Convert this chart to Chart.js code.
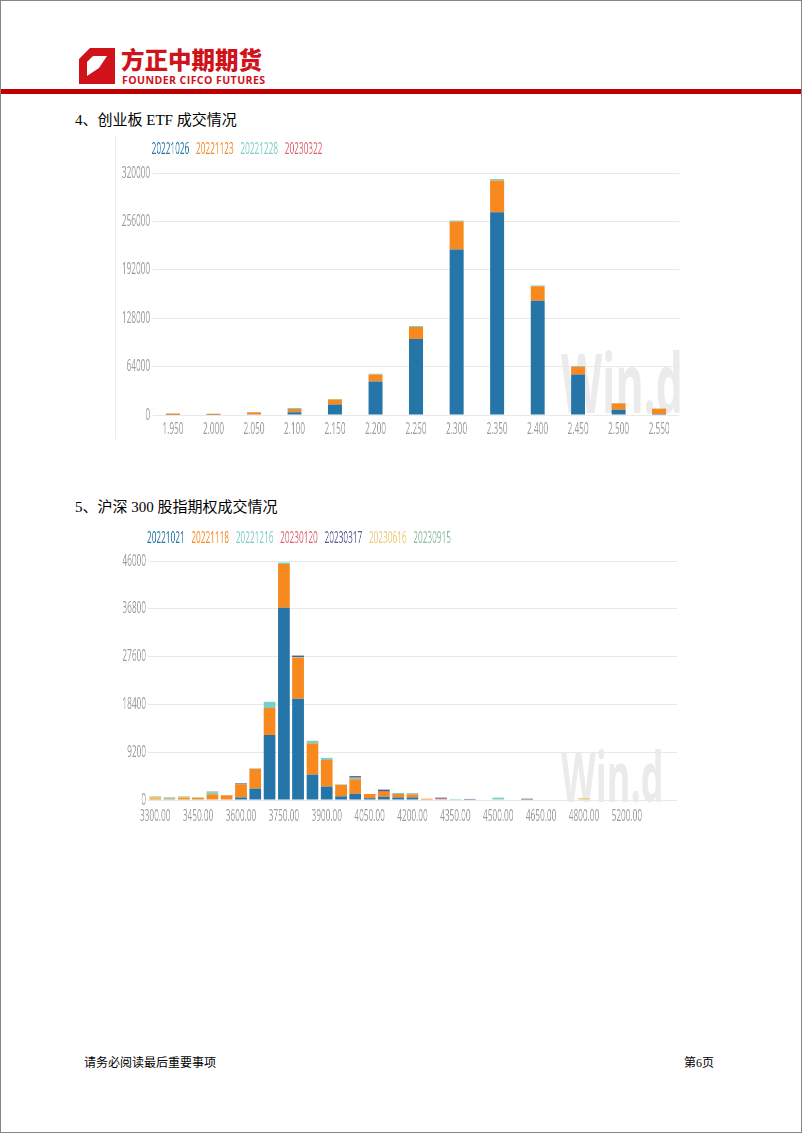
<!DOCTYPE html>
<html>
<head>
<meta charset="utf-8">
<script src="https://cdn.jsdelivr.net/npm/chart.js@4/dist/chart.umd.min.js"></script>
<style>
  body { margin: 0; background: #fff; }
  #page { position: relative; width: 800px; height: 1131px; border: 1px solid #858585; background: #fff; overflow: hidden; }
  .abs { position: absolute; }
  .heading { font: 15px 'Liberation Serif', 'Noto Sans CJK SC', serif; line-height: 20px; color: #000; white-space: nowrap; }
  .footer { font: 12px 'Liberation Serif', 'Noto Sans CJK SC', serif; line-height: 16px; color: #000; }
  .chartbox { transform: scaleX(0.515); transform-origin: 0 0; }
  .watermark { position: absolute; font-family: 'Open Sans', sans-serif; font-weight: 700; line-height: 1; color: #ebebeb; white-space: nowrap; }
  canvas { position: absolute; left: 0; top: 0; }
</style>
</head>
<body>
<div id="page">
  <!-- header -->
  <svg class="abs" style="left:78px;top:47px" width="36" height="36" viewBox="0 0 36 36">
    <polygon points="11,0 36,0 36,36 0,36 0,11" fill="#d0121b"/>
    <polygon points="14,8 28,8 28,28 8,28 8,14" fill="#fff"/>
    <polygon points="28,8 28,28 8,28 20,20" fill="#d0121b"/>
  </svg>
  <div class="abs" style="left:120px;top:44px;font:900 23.5px 'Noto Sans CJK SC',sans-serif;line-height:28px;color:#d0121b;white-space:nowrap">方正中期期货</div>
  <div class="abs" style="left:121px;top:73px;font:700 10.6px 'Open Sans',sans-serif;line-height:13px;letter-spacing:0.4px;color:#d0121b;white-space:nowrap">FOUNDER CIFCO FUTURES</div>
  <div class="abs" style="left:0;top:88px;width:800px;height:5px;background:#c00000"></div>

  <div class="abs heading" style="left:74px;top:109px">4、创业板 ETF 成交情况</div>
  <div class="abs" style="left:114px;top:134px;width:1px;height:304px;background:#ececec"></div>
  <div class="abs chartbox" style="left:113px;top:133px;width:1120px;height:309px">
    <div class="watermark" style="left:868px;top:205px;font-size:83px">Win.d</div>
    <canvas id="etfChart" width="1120" height="309"></canvas>
  </div>

  <div class="abs heading" style="left:74px;top:496px">5、沪深 300 股指期权成交情况</div>
  <div class="abs chartbox" style="left:113px;top:522px;width:1120px;height:309px">
    <div class="watermark" style="left:868px;top:217px;font-size:70px">Win.d</div>
    <canvas id="idxChart" width="1120" height="309"></canvas>
  </div>

  <div class="abs footer" style="left:83px;top:1054px">请务必阅读最后重要事项</div>
  <div class="abs footer" style="left:683px;top:1054px">第6页</div>
</div>

<script>
// ---- 创业板ETF: volume by strike, stacked by expiry ----
const etfStrikes = ['1.950', '2.000', '2.050', '2.100', '2.150', '2.200', '2.250', '2.300', '2.350', '2.400', '2.450', '2.500', '2.550'];
const etfExpiries = ['20221026', '20221123', '20221228', '20230322'];
const etf1026 = [300, 200, 900, 3500, 13800, 44400, 100400, 219000, 268000, 151000, 53700, 7100, 1300];
const etf1123 = [1600, 1500, 2600, 4400, 6700, 9300, 16000, 36900, 42200, 19100, 10200, 8000, 7100];
const etf1228 = [0, 0, 0, 1300, 700, 1000, 1300, 1300, 1800, 1300, 900, 800, 300];
const etf0322 = [0, 0, 0, 0, 0, 0, 0, 0, 0, 0, 0, 0, 0];
const etfYTicks = [0, 64000, 128000, 192000, 256000, 320000];

// ---- 沪深300股指期权: volume by strike, stacked by expiry ----
const idxStrikes = ['3300.00', '3350.00', '3400.00', '3450.00', '3500.00', '3550.00', '3600.00', '3650.00', '3700.00', '3750.00',
  '3800.00', '3850.00', '3900.00', '3950.00', '4000.00', '4050.00', '4100.00', '4150.00', '4200.00', '4250.00',
  '4300.00', '4350.00', '4400.00', '4450.00', '4500.00', '4550.00', '4600.00', '4650.00', '4700.00', '4750.00',
  '4800.00', '4900.00', '5000.00', '5200.00', '5400.00', '5600.00', '5800.00'];
const idxExpiries = ['20221021', '20221118', '20221216', '20230120', '20230317', '20230616', '20230915'];
const idx1021 = [0, 0, 0, 0, 100, 0, 500, 2200, 12500, 37000, 19500, 4900, 2600, 700, 1200, 350, 600, 500, 500, 0, 0, 0, 0, 0, 0, 0, 0, 0, 0, 0, 0, 0, 0, 0, 0, 0, 0];
const idx1118 = [300, 200, 400, 400, 1000, 900, 2500, 3800, 5200, 8400, 7900, 6000, 5100, 2200, 2800, 800, 1000, 650, 600, 250, 150, 0, 0, 0, 0, 0, 0, 0, 0, 0, 0, 0, 0, 0, 0, 0, 0];
const idx1216 = [0, 150, 0, 100, 300, 50, 0, 100, 1200, 300, 100, 500, 400, 100, 300, 0, 0, 200, 0, 0, 0, 200, 0, 0, 450, 0, 0, 0, 0, 0, 0, 0, 0, 0, 0, 0, 0];
const idx0120 = [0, 0, 0, 0, 0, 0, 0, 0, 0, 0, 0, 0, 0, 0, 0, 0, 0, 0, 0, 0, 100, 0, 0, 0, 0, 0, 0, 0, 0, 0, 0, 0, 0, 0, 0, 0, 0];
const idx0317 = [0, 0, 0, 0, 0, 0, 200, 0, 0, 0, 300, 0, 0, 0, 300, 0, 400, 0, 0, 0, 200, 0, 200, 0, 0, 0, 250, 0, 0, 0, 0, 0, 0, 0, 0, 0, 0];
const idx0616 = [300, 0, 200, 0, 0, 0, 0, 0, 0, 0, 0, 0, 0, 0, 0, 0, 0, 0, 0, 0, 0, 0, 0, 0, 0, 0, 0, 0, 0, 0, 350, 0, 0, 0, 0, 0, 0];
const idx0915 = [100, 150, 100, 0, 250, 0, 0, 0, 0, 0, 0, 0, 0, 0, 0, 0, 0, 0, 200, 0, 0, 0, 0, 0, 0, 0, 0, 0, 0, 0, 0, 0, 0, 0, 0, 0, 0];
const idxYTicks = [0, 9200, 18400, 27600, 36800, 46000];

// Wind palette
const windColors = ['#2575a8', '#f7891f', '#7dcdc9', '#e2606f', '#535c8e', '#e8cc78', '#8db99c'];
const SQUEEZE = 0.515; // the chart pictures are squeezed sideways on the page

Chart.defaults.font.family = "'Open Sans', sans-serif";
Chart.defaults.font.size = 16;
Chart.defaults.color = '#9b9b9b';

// Wind sets its legend in from the edge with a gap under it; the stock legend can't do that alone
const legendNudge = {
  id: 'legendNudge',
  beforeLayout(chart, args, opts) {
    const legend = chart.legend;
    if (!legend || legend._nudged) return;
    const fit = legend.fit;
    legend.fit = function () {
      fit.call(this);
      this.height += opts.gap;
    };
    legend._nudged = true;
  },
  afterLayout(chart, args, opts) {
    chart.legend.left += opts.dx;
    chart.legend.top += opts.dy;
  }
};

function textLegend(chart) {
  return chart.data.datasets.map((ds, i) => ({
    text: ds.label,
    fillStyle: 'rgba(0,0,0,0)',
    strokeStyle: 'rgba(0,0,0,0)',
    fontColor: ds.backgroundColor,
    lineWidth: 0,
    hidden: false,
    datasetIndex: i
  }));
}

function buildDatasets(names, series, barPct) {
  return names.map((name, i) => ({
    label: name,
    data: series[i],
    backgroundColor: windColors[i],
    borderWidth: 0,
    categoryPercentage: 1,
    barPercentage: barPct
  }));
}

function makeChart(canvasId, cfg) {
  const ctx = document.getElementById(canvasId).getContext('2d');
  return new Chart(ctx, {
    type: 'bar',
    data: {
      labels: cfg.labels,
      datasets: buildDatasets(cfg.names, cfg.series, cfg.barPct)
    },
    plugins: [legendNudge],
    options: {
      responsive: false,
      animation: false,
      layout: { padding: { left: 0, top: 0, right: cfg.padRight, bottom: 0 } },
      plugins: {
        legend: {
          position: 'top',
          align: 'start',
          labels: { boxWidth: 0, boxHeight: 0, padding: 5, font: { size: 16 }, generateLabels: textLegend }
        },
        legendNudge: cfg.legend,
        tooltip: { enabled: false }
      },
      scales: {
        x: {
          stacked: true,
          grid: { display: false, drawTicks: false },
          border: { display: false },
          ticks: {
            autoSkip: false,
            maxRotation: 0,
            padding: cfg.xPad,
            callback: cfg.xCallback
          }
        },
        y: {
          stacked: true,
          min: cfg.yTicks[0],
          max: cfg.yTicks[cfg.yTicks.length - 1],
          afterFit: scale => { scale.width = cfg.yWidth; },
          grid: { color: '#e9e9e9', lineWidth: 1, drawTicks: false },
          border: { display: false },
          ticks: {
            stepSize: cfg.yTicks[1] - cfg.yTicks[0],
            padding: cfg.yPad,
            callback: value => String(value)
          }
        }
      }
    }
  });
}

function initCharts() {
  makeChart('etfChart', {
    labels: etfStrikes,
    names: etfExpiries,
    series: [etf1026, etf1123, etf1228, etf0322],
    yTicks: etfYTicks,
    barPct: 0.345,
    yWidth: 38.7 / SQUEEZE,
    yPad: 5,
    xPad: 4.4,
    padRight: 11.4 / SQUEEZE,
    legend: { dx: 60, dy: 2, gap: 8 },
    xCallback: function (value) { return this.getLabelForValue(value); }
  });

  makeChart('idxChart', {
    labels: idxStrikes,
    names: idxExpiries,
    series: [idx1021, idx1118, idx1216, idx0120, idx0317, idx0616, idx0915],
    yTicks: idxYTicks,
    barPct: 0.82,
    yWidth: 34.05 / SQUEEZE,
    yPad: 4,
    xPad: 6.4,
    padRight: 13.9 / SQUEEZE,
    legend: { dx: 51, dy: 2.7, gap: 7 },
    xCallback: function (value, i) {
      return i % 3 === 0 && i < idxStrikes.length - 1 ? this.getLabelForValue(value) : '';
    }
  });
}

document.addEventListener('DOMContentLoaded', initCharts);
</script>
</body>
</html>
